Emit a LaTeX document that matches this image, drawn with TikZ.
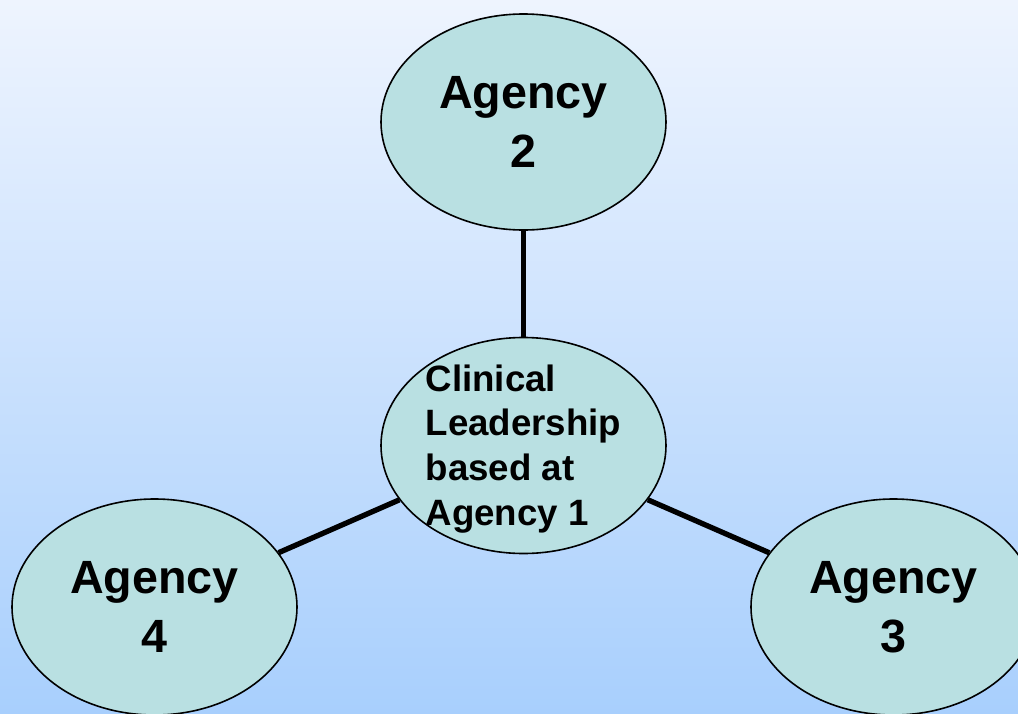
\documentclass[tikz,border=0pt]{standalone}
\usepackage{fontspec}
\setmainfont{Liberation Sans}
\usepackage{xcolor}
\usepackage{tikz}
\definecolor{skytop}{RGB}{238, 244, 254}
\definecolor{skybottom}{RGB}{168, 207, 253}
\definecolor{agencyfill}{RGB}{185, 224, 226}
\usetikzlibrary{shapes.geometric, positioning}

\begin{document}
\begin{tikzpicture}[
        x=0.75pt, y=-0.75pt,
        agency/.style={ellipse, draw=black, line width=1.2pt, fill=agencyfill,
                    minimum width=213.75pt, minimum height=162pt, inner sep=0pt,
                    align=center, font=\fontsize{35}{44}\selectfont\bfseries},
        hubtext/.style={inner sep=0pt, align=left,
                    font=\fontsize{27.5}{33.4}\selectfont\bfseries},
        link/.style={line width=4pt, black}
    ]
        \useasboundingbox (0,0) rectangle (1018,714);
        \clip (0,0) rectangle (1018,714);
        \fill[top color=skytop, bottom color=skybottom] (0,0) rectangle (1018,714);

        \node[agency] (agency2) at (523.5,122) {Agency\\2};
        \node[agency] (leader) at (523.5,445.5) {};
        \node[agency] (agency4) at (154.5,607) {Agency\\4};
        \node[agency] (agency3) at (893.5,607) {Agency\\3};
        \node[hubtext] (leadertext) at ([yshift=-2.5pt]leader.center) {Clinical\\Leadership\\based at\\Agency 1};

        \draw[link] (agency2) -- (leader);
        \draw[link] (leader) -- (agency4);
        \draw[link] (leader) -- (agency3);
    \end{tikzpicture}
\end{document}
